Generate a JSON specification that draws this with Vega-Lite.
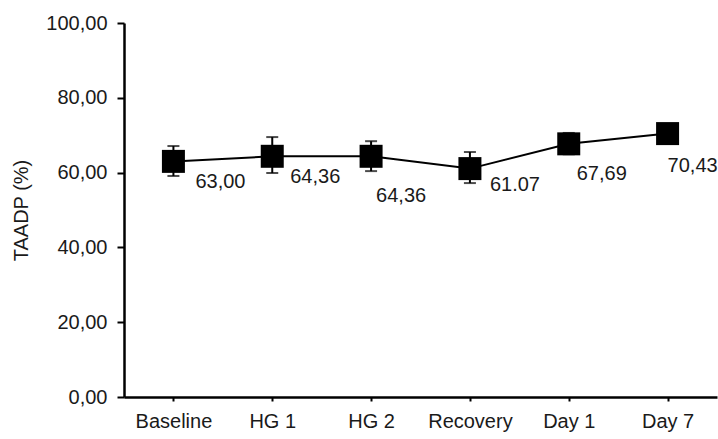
{
  "$schema": "https://vega.github.io/schema/vega-lite/v6.json",
  "width": 593,
  "height": 374,
  "autosize": "none",
  "padding": {"left": 124, "top": 23, "right": 1, "bottom": 42},
  "background": "white",
  "config": {
    "view": {"stroke": null},
    "font": "Liberation Sans",
    "axis": {"grid": false, "domainColor": "black", "tickColor": "black", "labelColor": "#1a1a1a", "titleColor": "#1a1a1a", "labelFont": "Liberation Sans", "titleFont": "Liberation Sans"}
  },
  "data": {
    "values": [
      {"phase": "Baseline", "value": 63.00, "label": "63,00", "low": 59.1, "high": 67.1},
      {"phase": "HG 1", "value": 64.36, "label": "64,36", "low": 59.9, "high": 69.5},
      {"phase": "HG 2", "value": 64.36, "label": "64,36", "low": 60.4, "high": 68.4},
      {"phase": "Recovery", "value": 61.07, "label": "61.07", "low": 57.2, "high": 65.5},
      {"phase": "Day 1", "value": 67.69, "label": "67,69", "low": 64.9, "high": 70.6},
      {"phase": "Day 7", "value": 70.43, "label": "70,43", "low": 68.5, "high": 72.3}
    ]
  },
  "encoding": {
    "x": {
      "field": "phase",
      "type": "nominal",
      "sort": null,
      "scale": {"type": "point", "padding": 0.5},
      "axis": {"title": null, "labelAngle": 0, "labelFontSize": 20, "labelFontWeight": "normal", "domainWidth": 2.5, "tickSize": 4, "tickWidth": 2, "labelPadding": 10, "labelColor": "#1a1a1a"}
    }
  },
  "layer": [
    {
      "mark": {"type": "rule", "color": "black", "strokeWidth": 2},
      "encoding": {
        "y": {"field": "low", "type": "quantitative"},
        "y2": {"field": "high"}
      }
    },
    {
      "mark": {"type": "tick", "color": "black", "thickness": 2, "size": 12, "orient": "horizontal"},
      "encoding": {"y": {"field": "low", "type": "quantitative"}}
    },
    {
      "mark": {"type": "tick", "color": "black", "thickness": 2, "size": 12, "orient": "horizontal"},
      "encoding": {"y": {"field": "high", "type": "quantitative"}}
    },
    {
      "mark": {"type": "line", "color": "black", "strokeWidth": 2},
      "encoding": {
        "y": {
          "field": "value",
          "type": "quantitative",
          "scale": {"domain": [0, 100], "nice": false},
          "axis": {"title": "TAADP (%)", "titleFontSize": 20, "titleFontWeight": "normal", "labelFontSize": 20, "values": [0, 20, 40, 60, 80, 100], "labelExpr": "replace(format(datum.value, '.2f'), '.', ',')", "domainWidth": 2.5, "tickSize": 7, "tickWidth": 2, "labelPadding": 10, "titlePadding": 14}
        }
      }
    },
    {
      "mark": {"type": "point", "shape": "square", "filled": true, "color": "black", "size": 529, "opacity": 1},
      "encoding": {"y": {"field": "value", "type": "quantitative"}}
    },
    {
      "mark": {
        "type": "text",
        "align": "left",
        "baseline": "middle",
        "dx": {"expr": "datum.phase === 'Baseline' ? 22 : datum.phase === 'HG 1' ? 18 : datum.phase === 'HG 2' ? 5 : datum.phase === 'Recovery' ? 20 : datum.phase === 'Day 1' ? 8 : 0"},
        "dy": {"expr": "datum.phase === 'Baseline' ? 21 : datum.phase === 'HG 1' ? 21 : datum.phase === 'HG 2' ? 40 : datum.phase === 'Recovery' ? 16 : datum.phase === 'Day 1' ? 30 : 32"},
        "fontSize": 20,
        "color": "#1a1a1a"
      },
      "encoding": {
        "y": {"field": "value", "type": "quantitative"},
        "text": {"field": "label"}
      }
    }
  ]
}
